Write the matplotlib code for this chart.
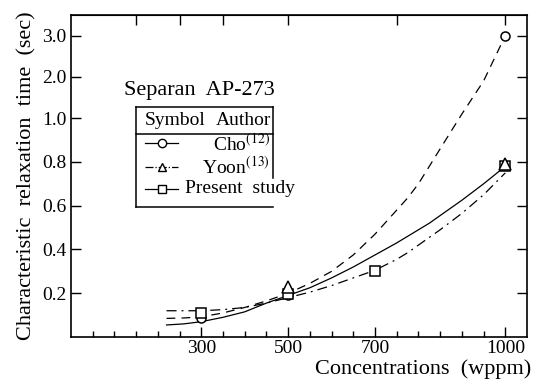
import numpy as np
import matplotlib
matplotlib.use('Agg')
import matplotlib.pyplot as plt
from matplotlib.lines import Line2D

# fitted curves
curve_x = [220, 260, 300, 350, 400, 450, 500, 550, 600, 650, 700, 750, 775, 800, 825, 850, 900, 950, 1000]
cho_curve = [0.085, 0.087, 0.092, 0.11, 0.135, 0.165, 0.20, 0.245, 0.30, 0.375, 0.47, 0.58,
             0.635, 0.70, 0.78, 0.86, 1.1, 1.9, 3.0]
yoon_curve = [0.055, 0.06, 0.07, 0.09, 0.115, 0.155, 0.19, 0.225, 0.27, 0.32, 0.375, 0.43,
              0.46, 0.49, 0.52, 0.555, 0.625, 0.70, 0.78]
present_curve = [0.12, 0.12, 0.12, 0.125, 0.135, 0.155, 0.18, 0.205, 0.235, 0.27, 0.305, 0.355,
                 0.385, 0.42, 0.455, 0.49, 0.565, 0.65, 0.75]

# measured points
cho_x = [300, 500, 1000]
cho_y = [0.085, 0.19, 3.0]
yoon_x = [500, 1000]
yoon_y = [0.23, 0.79]
present_x = [300, 500, 700, 1000]
present_y = [0.11, 0.195, 0.30, 0.78]

x_ticks = [300, 500, 700, 1000]
top_ticks = [150, 250, 350, 500, 750, 1000]
y_ticks = [0.2, 0.4, 0.6, 0.8, 1.0, 2.0, 3.0]
y_tick_labels = ['0.2', '0.4', '0.6', '0.8', '1.0', '2.0', '3.0']

# axis is linear up to 1.0, then compressed above
k = 41.5 / 220.0

def fwd(y):
    y = np.asarray(y, dtype=float)
    return np.where(y <= 1.0, y, 1.0 + (y - 1.0) * k)

def inv(t):
    t = np.asarray(t, dtype=float)
    return np.where(t <= 1.0, t, 1.0 + (t - 1.0) / k)

plt.rcParams['font.family'] = 'Liberation Serif'
plt.rcParams['mathtext.fontset'] = 'stix'

fig = plt.figure(figsize=(5.36, 3.84), dpi=100)
ax = fig.add_axes([71 / 536, 1 - 337 / 384, 456 / 536, 322 / 384])
ax.set_yscale('function', functions=(fwd, inv))

lw = 0.9
ax.plot(curve_x, cho_curve, color='black', lw=lw, linestyle=(0, (7, 5)))
ax.plot(curve_x, yoon_curve, color='black', lw=lw, linestyle='-')
ax.plot(curve_x, present_curve, color='black', lw=lw, linestyle=(0, (8, 4, 1.5, 4)))

mk = dict(color='black', markerfacecolor='white', markeredgewidth=1.1, linestyle='none', zorder=5)
ax.plot(cho_x, cho_y, marker='o', markersize=6.5, **mk)
ax.plot(present_x, present_y, marker='s', markersize=7, **mk)
ax.plot(yoon_x, yoon_y, marker='^', markersize=8, **mk)

ax.set_xlim(0, 1050)
ax.set_ylim(0, 3.5)

ax.set_xticks(x_ticks)
ax.set_xticks(np.arange(50, 1001, 50), minor=True)
ax.set_yticks(y_ticks)
ax.set_yticklabels(y_tick_labels)
ax.yaxis.set_minor_locator(matplotlib.ticker.NullLocator())
ax.tick_params(axis='both', which='major', direction='in', length=7, width=1, labelsize=14)
ax.tick_params(axis='x', which='minor', direction='in', length=4, width=1)
ax.tick_params(axis='y', right=True)
ax.tick_params(axis='x', pad=2)

top = ax.secondary_xaxis('top')
top.set_xticks(top_ticks)
top.set_xticklabels([])
top.tick_params(direction='in', length=7, width=1)

for s in ax.spines.values():
    s.set_linewidth(1.2)

ax.set_ylabel('Characteristic  relaxation  time  (sec)', fontsize=16, labelpad=4)
fig.text(531 / 536, 1 - 369 / 384, 'Concentrations  (wppm)', fontsize=16, ha='right', va='center')

# table-style legend, drawn by hand
tr = ax.transAxes
bx0, bx1, by0, by1 = 0.1425, 0.443, 0.404, 0.714
ax.text(0.281, 0.764, 'Separan  AP-273', transform=tr, fontsize=16, ha='center', va='center')
box_lines = [([bx0, bx0], [by0, by1]), ([bx0, bx1], [by1, by1]), ([bx0, bx1], [by0, by0]),
             ([bx1, bx1], [0.494, by1]), ([bx0, bx1], [0.630, 0.630])]
for lx, ly in box_lines:
    ax.add_line(Line2D(lx, ly, transform=tr, color='black', lw=1.1, zorder=6))
ax.text(0.162, 0.671, 'Symbol', transform=tr, fontsize=14, ha='left', va='center')
ax.text(0.440, 0.671, 'Author', transform=tr, fontsize=14, ha='right', va='center')

rows = [(0.602, 'o', '-', 'Cho$^{(12)}$'),
        (0.528, '^', '-.', 'Yoon$^{(13)}$'),
        (0.460, 's', '-', 'Present  study')]
for yy, m, ls, name in rows:
    ax.add_line(Line2D([0.162, 0.235], [yy, yy], transform=tr, color='black', lw=lw, linestyle=ls))
    ax.add_line(Line2D([0.1985], [yy], transform=tr, marker=m, markersize=6, color='black',
                       markerfacecolor='white', markeredgewidth=1))
    if name.startswith('Present'):
        ax.text(0.250, yy, name, transform=tr, fontsize=14, ha='left', va='center')
    else:
        ax.text(0.436, yy, name, transform=tr, fontsize=14, ha='right', va='center')

fig.savefig('out.png', dpi=100)
